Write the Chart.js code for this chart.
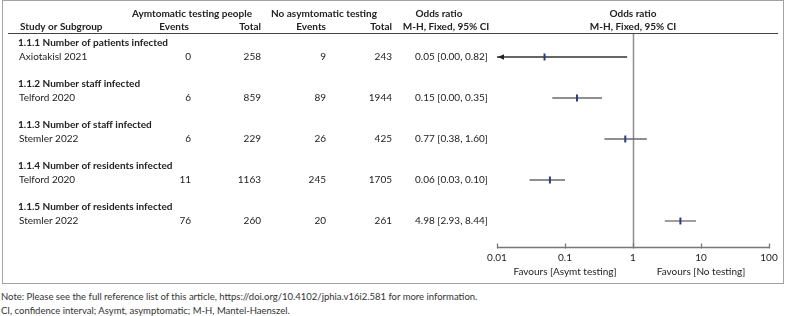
<!DOCTYPE html>
<html>
<head>
<meta charset="utf-8">
<script src="https://cdn.jsdelivr.net/npm/chart.js@4.4.1/dist/chart.umd.min.js"></script>
<style>
  html, body { margin: 0; padding: 0; background: #fff; }
  #wrap { position: relative; width: 787px; height: 316px; overflow: hidden; font-family: Lato, "Open Sans", sans-serif; }
  #c { position: absolute; left: 0; top: 0; }
  .note { position: absolute; left: 1px; font-size: 9.5px; color: #333; white-space: nowrap; line-height: 12px; }
</style>
</head>
<body>
<div id="wrap">
  <canvas id="c" width="787" height="288"></canvas>
  <div class="note" style="top:291px">Note: Please see the full reference list of this article, https://doi.org/10.4102/jphia.v16i2.581 for more information.</div>
  <div class="note" style="top:305px">CI, confidence interval; Asymt, asymptomatic; M-H, Mantel-Haenszel.</div>
</div>
<script>
// ---- data ----
const subgroups = [
  '1.1.1 Number of patients infected',
  '1.1.2 Number staff infected',
  '1.1.3 Number of staff infected',
  '1.1.4 Number of residents infected',
  '1.1.5 Number of residents infected'
];
const studies = ['Axiotakisl 2021', 'Telford 2020', 'Stemler 2022', 'Telford 2020', 'Stemler 2022'];
const eventsAsym = [0, 6, 6, 11, 76];
const totalAsym = [258, 859, 229, 1163, 260];
const eventsNo = [9, 89, 26, 245, 20];
const totalNo = [243, 1944, 425, 1705, 261];
const oddsRatio = [0.05, 0.15, 0.77, 0.06, 4.98];
const ciLow = [0.00, 0.00, 0.38, 0.03, 2.93];
const ciHigh = [0.82, 0.35, 1.60, 0.10, 8.44];
// lower whisker ends as drawn in the figure
const ciLowDrawn = [0.00, 0.065, 0.38, 0.03, 2.93];
const xTicks = [0.01, 0.1, 1, 10, 100];
const favourLabels = ['Favours [Asymt testing]', 'Favours [No testing]'];

const X_MIN = xTicks[0], X_MAX = xTicks[xTicks.length - 1];
const FONT = 'Lato, "Open Sans", sans-serif';
const TXT = '#222';

const datasets = [];
studies.forEach((s, i) => {
  const lo = Math.max(ciLowDrawn[i], X_MIN);
  datasets.push({
    label: 'ci' + i,
    data: [{ x: lo, y: i }, { x: ciHigh[i], y: i }],
    showLine: true,
    borderColor: ciLowDrawn[i] < X_MIN ? '#333' : '#6a6a6a',
    borderWidth: 1.3,
    pointRadius: 0,
    clip: false,
    order: 2
  });
});
datasets.push({
  label: 'Odds ratio',
  data: oddsRatio.map((v, i) => ({ x: v, y: i })),
  showLine: false,
  pointStyle: 'line',
  rotation: 90,
  pointRadius: 3.5,
  pointHoverRadius: 3.5,
  borderWidth: 2,
  borderColor: '#2a3b8f',
  backgroundColor: '#2a3b8f',
  clip: false,
  order: 1
});

const tablePlugin = {
  id: 'tablePlugin',
  beforeDatasetsDraw(chart) {
    const ctx = chart.ctx, xs = chart.scales.x, ca = chart.chartArea;
    ctx.save();
    // box border
    ctx.strokeStyle = '#a3a3a3';
    ctx.lineWidth = 1;
    ctx.strokeRect(2.5, 0.5, 781, 283);
    // header underline
    ctx.strokeStyle = '#444';
    ctx.beginPath(); ctx.moveTo(8, ca.top + 0.5); ctx.lineTo(778, ca.top + 0.5); ctx.stroke();
    // line of no effect
    const x1 = Math.round(xs.getPixelForValue(1)) + 0.5;
    ctx.strokeStyle = '#8c8c8c';
    ctx.lineWidth = 1.5;
    ctx.beginPath(); ctx.moveTo(x1, ca.top + 1); ctx.lineTo(x1, ca.bottom); ctx.stroke();
    // axis line + ticks
    ctx.strokeStyle = '#777';
    ctx.lineWidth = 1.3;
    const yb = ca.bottom + 0.5;
    ctx.beginPath(); ctx.moveTo(xs.getPixelForValue(X_MIN), yb); ctx.lineTo(xs.getPixelForValue(X_MAX), yb); ctx.stroke();
    xTicks.forEach(t => {
      const px = Math.round(xs.getPixelForValue(t)) + 0.5;
      ctx.beginPath(); ctx.moveTo(px, yb - 4); ctx.lineTo(px, yb + 1); ctx.stroke();
    });
    ctx.restore();
  },
  afterDatasetsDraw(chart) {
    const ctx = chart.ctx, xs = chart.scales.x, ys = chart.scales.y;
    ctx.save();
    // arrows for CIs running off the scale
    studies.forEach((s, i) => {
      if (ciLowDrawn[i] < X_MIN) {
        const px = xs.getPixelForValue(X_MIN) + 1, py = ys.getPixelForValue(i);
        ctx.fillStyle = '#222';
        ctx.beginPath(); ctx.moveTo(px, py); ctx.lineTo(px + 6, py - 2.8); ctx.lineTo(px + 6, py + 2.8); ctx.closePath(); ctx.fill();
      }
    });
    ctx.textBaseline = 'middle';
    const norm = '10px ' + FONT, bold = 'bold 10px ' + FONT;
    const put = (t, x, y, align, font) => { ctx.font = font || norm; ctx.textAlign = align; ctx.fillStyle = TXT; ctx.fillText(t, x, y); };
    // column headers
    const h1 = 14, h2 = 27;
    put('Aymtomatic testing people', 192, h1, 'center', bold);
    put('No asymtomatic testing', 324, h1, 'center', bold);
    put('Odds ratio', 439, h1, 'center', bold);
    put('Odds ratio', xs.getPixelForValue(1), h1, 'center', bold);
    put('Study or Subgroup', 20, h2, 'left', bold);
    put('Events', 189, h2, 'right', bold);
    put('Total', 261, h2, 'right', bold);
    put('Events', 326, h2, 'right', bold);
    put('Total', 392, h2, 'right', bold);
    put('M-H, Fixed, 95% CI', 446, h2, 'center', bold);
    put('M-H, Fixed, 95% CI', xs.getPixelForValue(1), h2, 'center', bold);
    // rows
    studies.forEach((s, i) => {
      const y = ys.getPixelForValue(i);
      const yh = ys.getPixelForValue(i - 0.34);
      put(subgroups[i], 18, yh, 'left', bold);
      put(s, 19, y, 'left');
      put(String(eventsAsym[i]), 191, y, 'right');
      put(String(totalAsym[i]), 261, y, 'right');
      put(String(eventsNo[i]), 326, y, 'right');
      put(String(totalNo[i]), 392, y, 'right');
      put(oddsRatio[i].toFixed(2) + ' [' + ciLow[i].toFixed(2) + ', ' + ciHigh[i].toFixed(2) + ']', 415, y, 'left');
    });
    // favours labels
    const yf = chart.chartArea.bottom + 25;
    put(favourLabels[0], xs.getPixelForValue(0.1), yf, 'center');
    put(favourLabels[1], xs.getPixelForValue(10), yf, 'center');
    ctx.restore();
  }
};

new Chart(document.getElementById('c'), {
  type: 'scatter',
  data: { datasets },
  options: {
    responsive: false,
    animation: false,
    events: [],
    layout: { padding: { left: 497, right: 18, top: 33, bottom: 21 } },
    plugins: { legend: { display: false }, tooltip: { enabled: false } },
    scales: {
      x: {
        type: 'logarithmic',
        min: X_MIN,
        max: X_MAX,
        afterBuildTicks: (s) => { s.ticks = xTicks.map(v => ({ value: v })); },
        afterFit: (s) => { s.height = 20; },
        grid: { display: false, drawTicks: false },
        border: { display: false },
        ticks: {
          autoSkip: false,
          maxRotation: 0,
          padding: 5,
          color: TXT,
          font: { family: FONT, size: 10 },
          callback: (v) => String(v)
        }
      },
      y: {
        type: 'linear',
        min: -0.585,
        max: studies.length - 1 + 0.634,
        reverse: true,
        display: false
      }
    }
  },
  plugins: [tablePlugin]
});
</script>
</body>
</html>
